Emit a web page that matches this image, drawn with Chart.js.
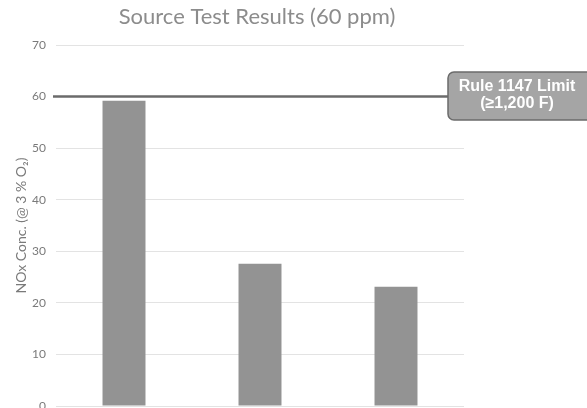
<!DOCTYPE html>
<html>
<head>
<meta charset="utf-8">
<script src="https://cdn.jsdelivr.net/npm/chart.js@4/dist/chart.umd.min.js"></script>
<style>
  body { margin: 0; background: #fff; }
  canvas { display: block; }
</style>
</head>
<body>
<canvas id="noxChart" width="587" height="408"></canvas>
<script>
var testLabels = ['Test 1', 'Test 2', 'Test 3'];
var noxValues = [59.2, 27.6, 23.1];
var limitValue = 60;
var limitText = ['Rule 1147 Limit', '(\u22651,200 F)'];
var chartTitle = 'Source Test Results (60 ppm)';
var axisTitle = 'NOx Conc. (@ 3 % O\u2082)';

// title centred over the plot, plus the limit line and its callout box
var extras = {
  id: 'extras',
  afterDraw: function(chart) {
    var ctx = chart.ctx;
    var area = chart.chartArea;
    ctx.save();
    ctx.fillStyle = '#8c8c8c';
    ctx.font = '22px Lato';
    ctx.textAlign = 'center';
    ctx.textBaseline = 'middle';
    ctx.fillText(chartTitle, (area.left + area.right) / 2 - 3, 17);

    var y = chart.scales.y.getPixelForValue(limitValue);
    var bx = 448, by = 72, bw = 150, bh = 48;
    ctx.strokeStyle = '#6b6b6b';
    ctx.lineWidth = 2.5;
    ctx.beginPath();
    ctx.moveTo(area.left - 3, y);
    ctx.lineTo(bx, y);
    ctx.stroke();

    ctx.fillStyle = '#a5a5a5';
    ctx.lineWidth = 1.5;
    ctx.beginPath();
    ctx.roundRect(bx, by, bw, bh, 6);
    ctx.fill();
    ctx.stroke();

    ctx.fillStyle = '#ffffff';
    ctx.font = 'bold 16px "Liberation Sans", Arial';
    ctx.fillText(limitText[0], 517, by + 15);
    ctx.fillText(limitText[1], 517, by + 32);
    ctx.restore();
  }
};

var ctx = document.getElementById('noxChart');
var noxChart = new Chart(ctx, {
  type: 'bar',
  data: {
    labels: testLabels,
    datasets: [{
      label: 'NOx',
      data: noxValues,
      backgroundColor: '#939393',
      borderWidth: 0,
      categoryPercentage: 1,
      barPercentage: 0.316
    }]
  },
  options: {
    responsive: false,
    animation: false,
    layout: { padding: { top: 45, bottom: 2, right: 123, left: 0 } },
    plugins: {
      legend: { display: false },
      tooltip: { enabled: false }
    },
    scales: {
      x: {
        display: false
      },
      y: {
        min: 0,
        max: 70,
        ticks: { stepSize: 10, padding: 10, color: '#7a7a7a', font: { family: 'Lato', size: 12 } },
        grid: { color: '#e3e3e3', drawTicks: false },
        border: { display: false },
        title: {
          display: true,
          text: axisTitle,
          color: '#7a7a7a',
          font: { family: 'Lato', size: 14 },
          padding: { top: 13, bottom: 0 }
        },
        afterFit: function(s) {
          s.width = 56;
          s.paddingTop = 0;
          s.paddingBottom = 0;
        }
      }
    }
  },
  plugins: [extras]
});
</script>
</body>
</html>
